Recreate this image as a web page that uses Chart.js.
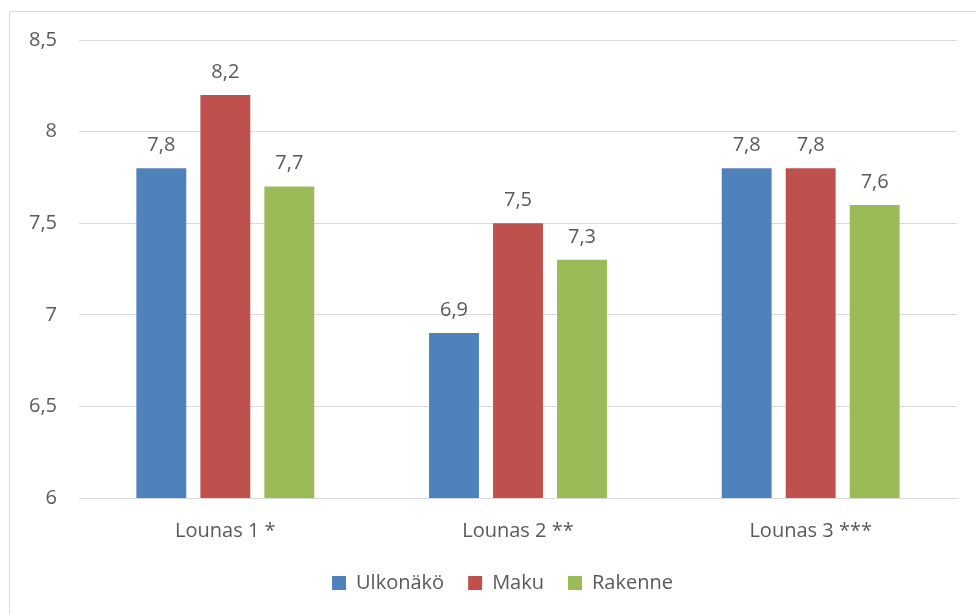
<!DOCTYPE html>
<html>
<head>
<meta charset="utf-8">
<script src="https://cdn.jsdelivr.net/npm/chart.js@4/dist/chart.umd.min.js"></script>
<style>
  html, body { margin: 0; padding: 0; background: #fff; }
  #wrap { position: relative; width: 976px; height: 614px; }
</style>
</head>
<body>
<div id="wrap"><canvas id="chart" width="976" height="614"></canvas></div>
<script>
const lunches = ['Lounas 1 *', 'Lounas 2 **', 'Lounas 3 ***'];
const ulkonako = [7.8, 6.9, 7.8];
const maku = [8.2, 7.5, 7.8];
const rakenne = [7.7, 7.3, 7.6];
const yTicks = [6, 6.5, 7, 7.5, 8, 8.5];

const textColor = '#595959';
const fontFamily = '"Open Sans", Lato, sans-serif';
const fontSize = 20;

const comma = v => String(v).replace('.', ',');

// thin grey frame round the chart, open to the right and bottom
const frame = {
    id: 'frame',
    beforeDraw(chart) {
        const c = chart.ctx;
        c.save();
        c.strokeStyle = '#d9d9d9';
        c.lineWidth = 1;
        c.beginPath();
        c.moveTo(9.5, 614);
        c.lineTo(9.5, 11.5);
        c.lineTo(976, 11.5);
        c.stroke();
        c.restore();
    }
};

// the frame runs past the right edge, so the legend sits a bit right of the canvas middle
const legendShift = {
    id: 'legendShift',
    afterLayout(chart) {
        chart.legend.left += 24;
        chart.legend.right += 24;
    }
};

// value above every bar
const barValues = {
    id: 'barValues',
    afterDatasetsDraw(chart) {
        const c = chart.ctx;
        c.save();
        c.font = fontSize + 'px ' + fontFamily;
        c.fillStyle = textColor;
        c.textAlign = 'center';
        c.textBaseline = 'middle';
        chart.data.datasets.forEach((ds, i) => {
            chart.getDatasetMeta(i).data.forEach((bar, j) => {
                c.fillText(comma(ds.data[j]), bar.x, bar.y - 23);
            });
        });
        c.restore();
    }
};

let ctx = document.getElementById('chart').getContext('2d');

new Chart(ctx, {
    type: 'bar',
    data: {
        labels: lunches,
        datasets: [
            { label: 'Ulkonäkö', data: ulkonako, backgroundColor: '#4f81bd' },
            { label: 'Maku', data: maku, backgroundColor: '#c0504d' },
            { label: 'Rakenne', data: rakenne, backgroundColor: '#9bbb59' }
        ]
    },
    options: {
        responsive: false,
        animation: false,
        categoryPercentage: 0.656,
        barPercentage: 0.78,
        layout: { padding: { top: 40, right: 19, bottom: 11, left: 0 } },
        scales: {
            y: {
                min: 6,
                max: 8.5,
                afterBuildTicks: s => { s.ticks = yTicks.map(v => ({ value: v })); },
                afterFit: s => { s.width = 79; },
                border: { display: false },
                grid: { color: '#d9d9d9', drawTicks: false },
                ticks: {
                    padding: 22,
                    color: textColor,
                    font: { family: fontFamily, size: fontSize },
                    callback: v => comma(v)
                }
            },
            x: {
                afterFit: s => { s.height = 51; },
                border: { color: '#d9d9d9' },
                grid: { display: false, drawTicks: false },
                ticks: {
                    padding: 21,
                    color: textColor,
                    font: { family: fontFamily, size: fontSize }
                }
            }
        },
        plugins: {
            legend: {
                position: 'bottom',
                labels: {
                    color: textColor,
                    font: { family: fontFamily, size: fontSize },
                    boxWidth: 14,
                    boxHeight: 14,
                    padding: 24
                }
            },
            tooltip: { enabled: false }
        }
    },
    plugins: [frame, legendShift, barValues]
});
</script>
</body>
</html>
